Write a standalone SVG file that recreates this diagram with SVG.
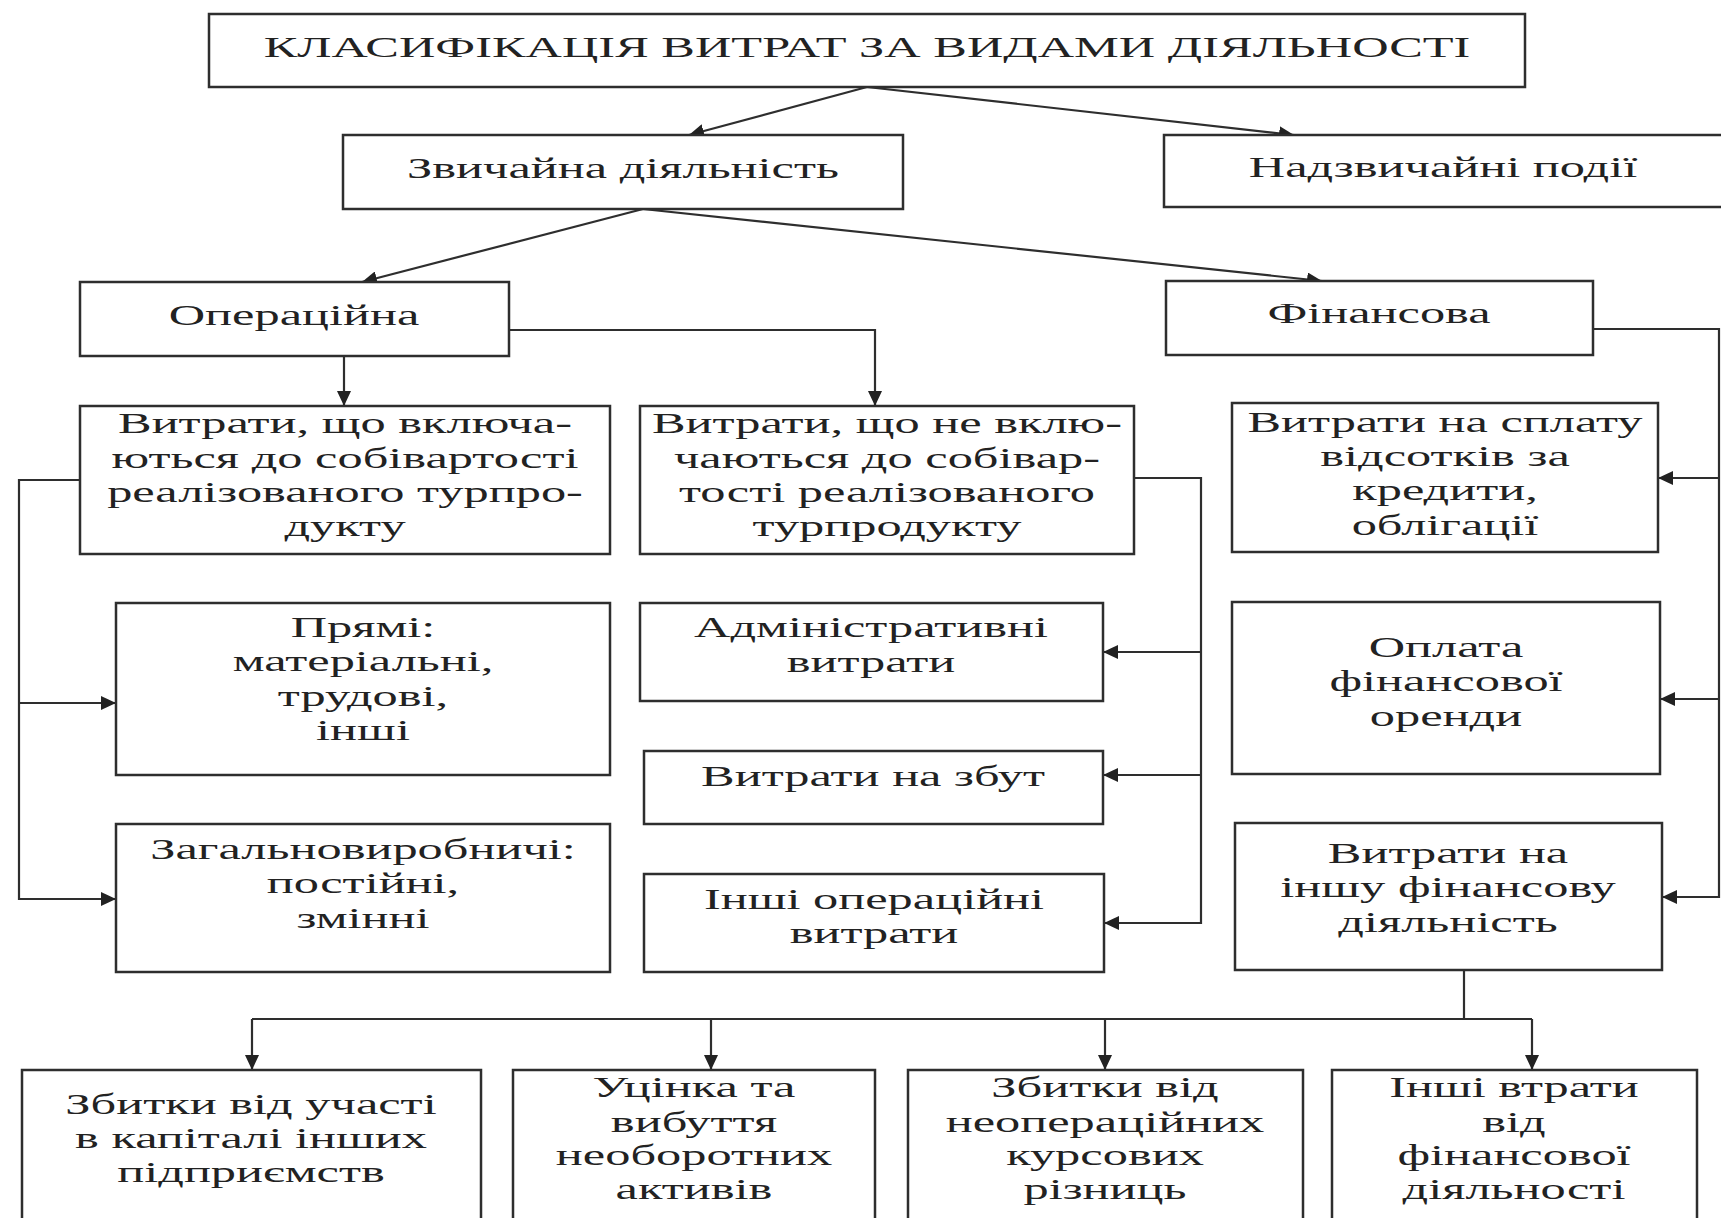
<svg xmlns="http://www.w3.org/2000/svg" width="1721" height="1218" viewBox="0 0 1721 1218">
<style>
.b{fill:#fff;stroke:#2e2e2e;stroke-width:2.5}
.c{fill:none;stroke:#2e2e2e;stroke-width:2.2}
.a{marker-end:url(#ah)}
text{font-family:"Liberation Serif","Times New Roman",serif;font-size:30px;fill:#222;text-anchor:middle}
</style>
<defs>
<marker id="ah" markerUnits="userSpaceOnUse" markerWidth="16" markerHeight="14" refX="15" refY="7" orient="auto">
<path d="M0,0 L15,7 L0,14 z" fill="#222"/>
</marker>
</defs>
<rect width="1721" height="1218" fill="#fff"/>

<g id="connectors">
<path class="c a" d="M867 87 L689 135"/>
<path class="c a" d="M867 87 L1294 135"/>
<path class="c a" d="M643 209 L362 282"/>
<path class="c a" d="M643 209 L1322 281"/>
<path class="c a" d="M344 356 V406"/>
<path class="c a" d="M509 330 H875 V406"/>
<path class="c a" d="M80 480 H19 V899 H116"/>
<path class="c a" d="M19 703 H116"/>
<path class="c a" d="M1134 478 H1201 V923 H1104"/>
<path class="c a" d="M1201 652 H1103"/>
<path class="c a" d="M1201 775 H1103"/>
<path class="c a" d="M1593 329 H1719 V897 H1662"/>
<path class="c a" d="M1719 478 H1658"/>
<path class="c a" d="M1719 699 H1660"/>
<path class="c" d="M1464 970 V1019 M252 1019 H1532"/>
<path class="c a" d="M252 1019 V1070"/>
<path class="c a" d="M711 1019 V1070"/>
<path class="c a" d="M1105 1019 V1070"/>
<path class="c a" d="M1532 1019 V1070"/>
</g>

<g id="title">
<rect class="b" x="209" y="14" width="1316" height="73"/>
<text transform="translate(867 0) scale(1.68 1)"><tspan x="0" y="57">КЛАСИФІКАЦІЯ ВИТРАТ ЗА ВИДАМИ ДІЯЛЬНОСТІ</tspan></text>
</g>

<g id="ordinary">
<rect class="b" x="343" y="135" width="560" height="74"/>
<text transform="translate(623 0) scale(1.68 1)"><tspan x="0" y="178">Звичайна діяльність</tspan></text>
</g>

<g id="extraordinary">
<rect class="b" x="1164" y="135" width="560" height="72"/>
<text transform="translate(1443 0) scale(1.68 1)"><tspan x="0" y="177">Надзвичайні події</tspan></text>
</g>

<g id="operational">
<rect class="b" x="80" y="282" width="429" height="74"/>
<text transform="translate(294 0) scale(1.68 1)"><tspan x="0" y="325">Операційна</tspan></text>
</g>

<g id="financial">
<rect class="b" x="1166" y="281" width="427" height="74"/>
<text transform="translate(1379 0) scale(1.68 1)"><tspan x="0" y="323">Фінансова</tspan></text>
</g>

<g id="included">
<rect class="b" x="80" y="406" width="530" height="148"/>
<text transform="translate(345 0) scale(1.68 1)"><tspan x="0" y="433">Витрати, що включа-</tspan><tspan x="0" y="468">ються до собівартості</tspan><tspan x="0" y="502">реалізованого турпро-</tspan><tspan x="0" y="536">дукту</tspan></text>
</g>

<g id="not-included">
<rect class="b" x="640" y="406" width="494" height="148"/>
<text transform="translate(887 0) scale(1.68 1)"><tspan x="0" y="433">Витрати, що не вклю-</tspan><tspan x="0" y="468">чаються до собівар-</tspan><tspan x="0" y="502">тості реалізованого</tspan><tspan x="0" y="536">турпродукту</tspan></text>
</g>

<g id="interest">
<rect class="b" x="1232" y="403" width="426" height="149"/>
<text transform="translate(1445 0) scale(1.68 1)"><tspan x="0" y="432">Витрати на сплату</tspan><tspan x="0" y="466">відсотків за</tspan><tspan x="0" y="500">кредити,</tspan><tspan x="0" y="535">облігації</tspan></text>
</g>

<g id="direct">
<rect class="b" x="116" y="603" width="494" height="172"/>
<text transform="translate(363 0) scale(1.68 1)"><tspan x="0" y="637">Прямі:</tspan><tspan x="0" y="671">матеріальні,</tspan><tspan x="0" y="706">трудові,</tspan><tspan x="0" y="740">інші</tspan></text>
</g>

<g id="admin">
<rect class="b" x="640" y="603" width="463" height="98"/>
<text transform="translate(871 0) scale(1.68 1)"><tspan x="0" y="637">Адміністративні</tspan><tspan x="0" y="672">витрати</tspan></text>
</g>

<g id="lease">
<rect class="b" x="1232" y="602" width="428" height="172"/>
<text transform="translate(1446 0) scale(1.68 1)"><tspan x="0" y="657">Оплата</tspan><tspan x="0" y="691">фінансової</tspan><tspan x="0" y="726">оренди</tspan></text>
</g>

<g id="sales">
<rect class="b" x="644" y="751" width="459" height="73"/>
<text transform="translate(873 0) scale(1.68 1)"><tspan x="0" y="786">Витрати на збут</tspan></text>
</g>

<g id="overhead">
<rect class="b" x="116" y="824" width="494" height="148"/>
<text transform="translate(363 0) scale(1.68 1)"><tspan x="0" y="859">Загальновиробничі:</tspan><tspan x="0" y="893">постійні,</tspan><tspan x="0" y="928">змінні</tspan></text>
</g>

<g id="other-operating">
<rect class="b" x="644" y="874" width="460" height="98"/>
<text transform="translate(874 0) scale(1.68 1)"><tspan x="0" y="909">Інші операційні</tspan><tspan x="0" y="943">витрати</tspan></text>
</g>

<g id="other-financial">
<rect class="b" x="1235" y="823" width="427" height="147"/>
<text transform="translate(1448 0) scale(1.68 1)"><tspan x="0" y="863">Витрати на</tspan><tspan x="0" y="897">іншу фінансову</tspan><tspan x="0" y="932">діяльність</tspan></text>
</g>

<g id="losses-participation">
<rect class="b" x="22" y="1070" width="459" height="160"/>
<text transform="translate(251 0) scale(1.68 1)"><tspan x="0" y="1114">Збитки від участі</tspan><tspan x="0" y="1148">в капіталі інших</tspan><tspan x="0" y="1182">підприємств</tspan></text>
</g>

<g id="impairment">
<rect class="b" x="513" y="1070" width="362" height="160"/>
<text transform="translate(694 0) scale(1.68 1)"><tspan x="0" y="1097">Уцінка та</tspan><tspan x="0" y="1132">вибуття</tspan><tspan x="0" y="1165">необоротних</tspan><tspan x="0" y="1199">активів</tspan></text>
</g>

<g id="fx-losses">
<rect class="b" x="908" y="1070" width="395" height="160"/>
<text transform="translate(1105 0) scale(1.68 1)"><tspan x="0" y="1097">Збитки від</tspan><tspan x="0" y="1132">неопераційних</tspan><tspan x="0" y="1165">курсових</tspan><tspan x="0" y="1199">різниць</tspan></text>
</g>

<g id="other-losses">
<rect class="b" x="1332" y="1070" width="365" height="160"/>
<text transform="translate(1514 0) scale(1.68 1)"><tspan x="0" y="1097">Інші втрати</tspan><tspan x="0" y="1132">від</tspan><tspan x="0" y="1165">фінансової</tspan><tspan x="0" y="1199">діяльності</tspan></text>
</g>
</svg>
